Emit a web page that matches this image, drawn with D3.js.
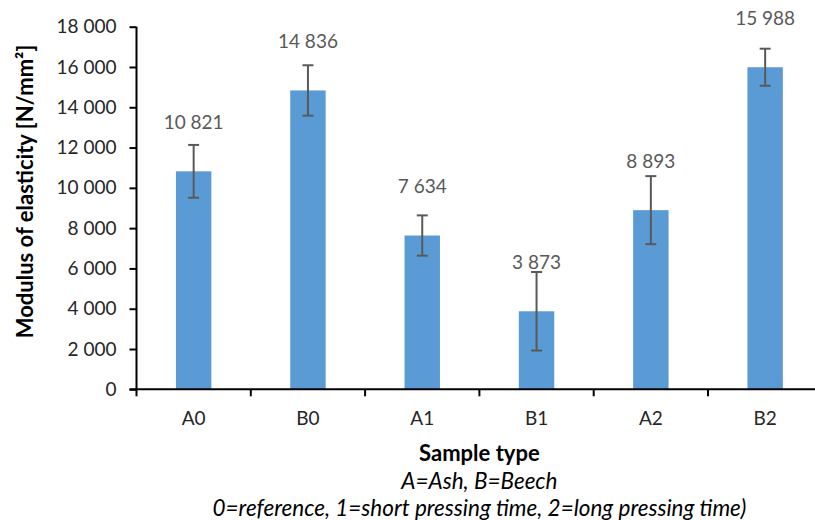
<!DOCTYPE html>
<html>
<head>
<meta charset="utf-8">
<script src="https://cdn.jsdelivr.net/npm/d3@7"></script>
<style>
  html, body { margin: 0; padding: 0; background: #fff; }
  svg { display: block; font-family: Lato, "Open Sans", sans-serif; }
</style>
</head>
<body>
<svg id="chart" width="815" height="520"></svg>
<script>
const categories = ["A0", "B0", "A1", "B1", "A2", "B2"];
const values = [10821, 14836, 7634, 3873, 8893, 15988];
const errors = [1310, 1250, 1000, 1950, 1690, 920];
const yTicks = [0, 2000, 4000, 6000, 8000, 10000, 12000, 14000, 16000, 18000];
const yTitle = "Modulus of elasticity [N/mm²]";
const xTitle = "Sample type";
const notes = ["A=Ash, B=Beech", "0=reference, 1=short pressing time, 2=long pressing time)"];

const fmt = v => d3.format(",")(v).replace(/,/g, " ");

const svg = d3.select("#chart");
const mLeft = 136.5, mRight = 822.3, mTop = 26.7, mBottom = 389.3;

const x = d3.scaleBand().domain(categories).range([mLeft, mRight]).padding(0);
const y = d3.scaleLinear().domain([0, 18000]).range([mBottom, mTop]);
const barW = x.bandwidth() * 0.31;

// bars
svg.append("g").selectAll("rect")
  .data(categories)
  .join("rect")
  .attr("x", (d) => x(d) + x.bandwidth() / 2 - barW / 2)
  .attr("y", (d, i) => y(values[i]))
  .attr("width", barW)
  .attr("height", (d, i) => y(0) - y(values[i]))
  .attr("fill", "#5B9BD5");

// error bars
const eg = svg.append("g").attr("stroke", "#595959").attr("stroke-width", 2);
categories.forEach((c, i) => {
  const cx = x(c) + x.bandwidth() / 2;
  const y1 = y(values[i] + errors[i]), y2 = y(values[i] - errors[i]);
  eg.append("line").attr("x1", cx).attr("x2", cx).attr("y1", y1).attr("y2", y2);
  eg.append("line").attr("x1", cx - 5.5).attr("x2", cx + 5.5).attr("y1", y1).attr("y2", y1);
  eg.append("line").attr("x1", cx - 5.5).attr("x2", cx + 5.5).attr("y1", y2).attr("y2", y2);
});

// data labels
svg.append("g").selectAll("text")
  .data(categories)
  .join("text")
  .attr("x", d => x(d) + x.bandwidth() / 2)
  .attr("y", (d, i) => y(values[i]) - 49)
  .attr("dy", "0.35em")
  .attr("text-anchor", "middle")
  .attr("font-size", 19)
  .attr("fill", "#595959")
  .text((d, i) => fmt(values[i]));

// y axis
const yAxis = svg.append("g")
  .attr("transform", `translate(${mLeft},0)`)
  .call(d3.axisLeft(y).tickValues(yTicks).tickSize(7).tickPadding(13).tickFormat(fmt));
yAxis.selectAll("path, line").attr("stroke", "#000").attr("stroke-width", 2);
yAxis.select("path").attr("d", `M0,${mTop}V${mBottom}`);
yAxis.selectAll("text").attr("font-size", 19).attr("fill", "#262626").attr("font-family", "Lato, sans-serif");

// x axis
const xAxis = svg.append("g")
  .attr("transform", `translate(0,${mBottom})`)
  .call(d3.axisBottom(x).tickSize(0).tickPadding(22));
xAxis.select("path").attr("d", `M${mLeft - 7},0H${mRight}`).attr("stroke", "#000").attr("stroke-width", 2);
xAxis.selectAll("text").attr("font-size", 19).attr("fill", "#262626").attr("font-family", "Lato, sans-serif");
// category boundary ticks
svg.append("g").selectAll("line")
  .data(d3.range(categories.length + 1))
  .join("line")
  .attr("x1", i => mLeft + i * x.step())
  .attr("x2", i => mLeft + i * x.step())
  .attr("y1", mBottom)
  .attr("y2", mBottom + 7)
  .attr("stroke", "#000")
  .attr("stroke-width", 2);

// y title
svg.append("text")
  .attr("transform", `translate(25,191.5) rotate(-90)`)
  .attr("dy", "0.35em")
  .attr("text-anchor", "middle")
  .attr("font-size", 22)
  .attr("font-weight", "bold")
  .attr("fill", "#000")
  .text(yTitle);

const cxMid = (mLeft + mRight) / 2;
svg.append("text")
  .attr("x", cxMid).attr("y", 453.3).attr("dy", "0.35em")
  .attr("text-anchor", "middle")
  .attr("font-size", 22).attr("font-weight", "bold").attr("fill", "#000")
  .text(xTitle);

svg.append("g").selectAll("text")
  .data(notes)
  .join("text")
  .attr("x", cxMid)
  .attr("y", (d, i) => 481 + i * 27.3)
  .attr("dy", "0.35em")
  .attr("text-anchor", "middle")
  .attr("font-size", 22.5).attr("font-style", "italic").attr("fill", "#000")
  .text(d => d);
</script>
</body>
</html>
